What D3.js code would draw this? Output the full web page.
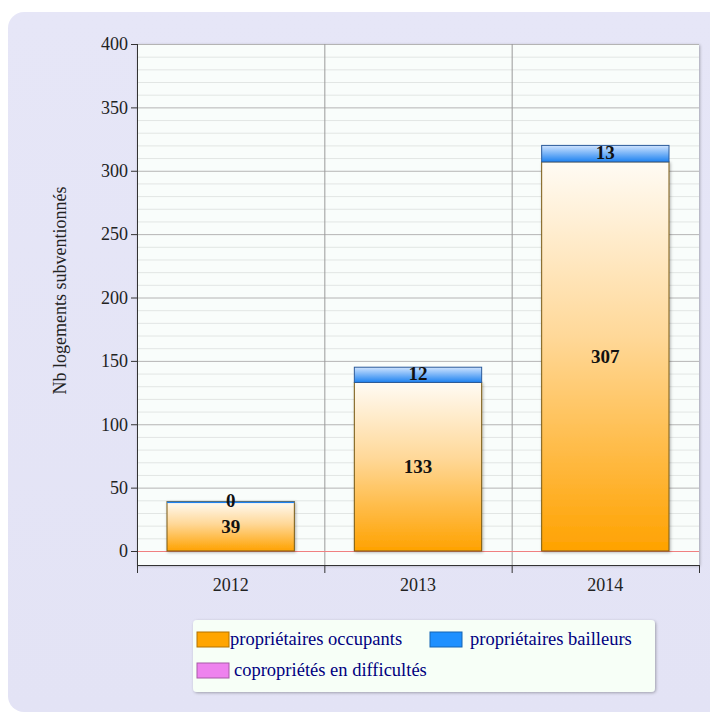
<!DOCTYPE html>
<html>
<head>
<meta charset="utf-8">
<script src="https://cdn.jsdelivr.net/npm/d3@7"></script>
<style>
  html, body { margin: 0; padding: 0; background: #ffffff; }
  svg { display: block; }
  .tick-label { font-family: "Liberation Serif", "DejaVu Serif", serif; font-size: 18px; fill: #222; }
  .bar-label { font-family: "Liberation Serif", serif; font-size: 19px; font-weight: bold; fill: #111; }
  .legend-text { font-family: "Liberation Serif", serif; font-size: 18.5px; fill: #000080; }
</style>
</head>
<body>
<div id="visualization"></div>
<script>
'use strict';

// chart data
const years = ['2012', '2013', '2014'];
const occupants = [39, 133, 307];
const bailleurs = [0, 12, 13];
const copro = [0, 0, 0];
const yTicks = [0, 50, 100, 150, 200, 250, 300, 350, 400];
const legendLabels = ['propriétaires occupants', 'propriétaires bailleurs', 'copropriétés en difficultés'];
const legendColors = ['#ffa500', '#1e90ff', '#ee82ee'];
const yTitle = 'Nb logements subventionnés';

const W = 710, H = 713;
const plot = { left: 137, right: 699, top: 44, bottom: 565 };

const svg = d3.select('#visualization')
    .append('svg')
    .attr('width', W)
    .attr('height', H);

const defs = svg.append('defs');

const panelGrad = defs.append('linearGradient').attr('id', 'panel').attr('x1', 0).attr('y1', 0).attr('x2', 0).attr('y2', 1);
panelGrad.append('stop').attr('offset', '0%').attr('stop-color', '#e6e6f7');
panelGrad.append('stop').attr('offset', '100%').attr('stop-color', '#e3e3f5');

const orangeGrad = defs.append('linearGradient').attr('id', 'orange').attr('x1', 0).attr('y1', 0).attr('x2', 0).attr('y2', 1);
orangeGrad.append('stop').attr('offset', '0%').attr('stop-color', '#fffbf4');
orangeGrad.append('stop').attr('offset', '45%').attr('stop-color', '#ffd898');
orangeGrad.append('stop').attr('offset', '100%').attr('stop-color', '#ffa200');

const blueGrad = defs.append('linearGradient').attr('id', 'blue').attr('x1', 0).attr('y1', 0).attr('x2', 0).attr('y2', 1);
blueGrad.append('stop').attr('offset', '0%').attr('stop-color', '#cfe4ff');
blueGrad.append('stop').attr('offset', '100%').attr('stop-color', '#1e82f0');

const shadow = defs.append('filter').attr('id', 'shadow').attr('x', '-10%').attr('y', '-10%').attr('width', '130%').attr('height', '130%');
shadow.append('feDropShadow').attr('dx', 1).attr('dy', 1).attr('stdDeviation', 1.5).attr('flood-color', '#000').attr('flood-opacity', 0.3);

// background panel
svg.append('rect')
    .attr('x', 8).attr('y', 12)
    .attr('width', 720).attr('height', 700)
    .attr('rx', 16)
    .attr('fill', 'url(#panel)');

// plot area
svg.append('rect')
    .attr('x', plot.left).attr('y', plot.top)
    .attr('width', plot.right - plot.left).attr('height', plot.bottom - plot.top)
    .attr('fill', '#f9fdfb')
    .attr('filter', 'url(#shadow)');

const x = d3.scaleBand().domain(years).range([plot.left, plot.right]).paddingInner(0).paddingOuter(0);
const y = d3.scaleLinear().domain([0, 400]).range([551, plot.top]);

// minor gridlines
svg.append('g')
    .selectAll('line')
    .data(d3.range(0, 401, 10).filter(v => v % 50 !== 0))
    .enter()
        .append('line')
        .attr('x1', plot.left).attr('x2', plot.right)
        .attr('y1', d => y(d) + 0.5).attr('y2', d => y(d) + 0.5)
        .attr('stroke', '#e2e6e4')
        .attr('stroke-width', 1);

// major gridlines
svg.append('g')
    .selectAll('line')
    .data(yTicks.filter(v => v > 0))
    .enter()
        .append('line')
        .attr('x1', plot.left).attr('x2', plot.right)
        .attr('y1', d => y(d) + 0.5).attr('y2', d => y(d) + 0.5)
        .attr('stroke', '#b4b4b4')
        .attr('stroke-width', 1);

// vertical category separators
svg.append('g')
    .selectAll('line')
    .data(years.slice(1))
    .enter()
        .append('line')
        .attr('x1', d => x(d) + 0.5).attr('x2', d => x(d) + 0.5)
        .attr('y1', plot.top).attr('y2', plot.bottom)
        .attr('stroke', '#9a9a9a');

// zero line
svg.append('line')
    .attr('x1', plot.left).attr('x2', plot.right)
    .attr('y1', y(0) + 0.5).attr('y2', y(0) + 0.5)
    .attr('stroke', '#f08080');

// bars
const barPad = 30;
const barW = x.bandwidth() - 2 * barPad;
const bars = svg.append('g');

bars.selectAll('.occ')
    .data(years)
    .enter()
        .append('rect')
        .classed('occ', true)
        .attr('x', d => x(d) + barPad)
        .attr('y', (d, i) => y(occupants[i]))
        .attr('width', barW)
        .attr('height', (d, i) => y(0) - y(occupants[i]))
        .attr('fill', 'url(#orange)')
        .attr('stroke', '#7a5a14')
        .attr('stroke-width', 1)
        .attr('filter', 'url(#shadow)');

bars.selectAll('.bai')
    .data(years)
    .enter()
        .append('rect')
        .classed('bai', true)
        .attr('x', d => x(d) + barPad)
        .attr('y', (d, i) => y(occupants[i] + bailleurs[i]))
        .attr('width', barW)
        .attr('height', (d, i) => Math.max(1.5, y(occupants[i]) - y(occupants[i] + bailleurs[i])))
        .attr('fill', (d, i) => bailleurs[i] > 0 ? 'url(#blue)' : '#1e82f0')
        .attr('stroke', (d, i) => bailleurs[i] > 0 ? '#2a5a9a' : 'none')
        .attr('stroke-width', 1);

// bar labels
bars.selectAll('.occ-label')
    .data(years)
    .enter()
        .append('text')
        .classed('bar-label', true)
        .attr('x', d => x(d) + x.bandwidth() / 2)
        .attr('y', (d, i) => (y(0) + y(occupants[i])) / 2)
        .attr('text-anchor', 'middle')
        .attr('dy', '0.35em')
        .text((d, i) => occupants[i]);

bars.selectAll('.bai-label')
    .data(years)
    .enter()
        .append('text')
        .classed('bar-label', true)
        .attr('x', d => x(d) + x.bandwidth() / 2)
        .attr('y', (d, i) => (y(occupants[i]) + y(occupants[i] + bailleurs[i])) / 2 - 1)
        .attr('text-anchor', 'middle')
        .attr('dy', '0.35em')
        .text((d, i) => bailleurs[i]);

// y axis
const yAxis = svg.append('g')
    .attr('transform', 'translate(' + plot.left + ',0)')
    .call(d3.axisLeft(y).tickValues(yTicks).tickSize(6).tickSizeOuter(0));
yAxis.select('.domain').remove();
yAxis.selectAll('.tick line').attr('stroke', '#333');
yAxis.selectAll('.tick text').attr('class', 'tick-label').attr('x', -9);
svg.append('line')
    .attr('x1', plot.left + 0.5).attr('x2', plot.left + 0.5)
    .attr('y1', plot.top).attr('y2', plot.bottom + 8)
    .attr('stroke', '#333');

// x axis
const xAxis = svg.append('g')
    .attr('transform', 'translate(0,' + plot.bottom + ')')
    .call(d3.axisBottom(x).tickSize(0).tickSizeOuter(0));
xAxis.select('.domain').attr('stroke', '#333');
xAxis.selectAll('.tick text').attr('class', 'tick-label').attr('dy', '1.3em');
svg.append('g')
    .selectAll('line')
    .data(years.concat(['end']))
    .enter()
        .append('line')
        .attr('x1', d => (d === 'end' ? plot.right : x(d)) + 0.5)
        .attr('x2', d => (d === 'end' ? plot.right : x(d)) + 0.5)
        .attr('y1', plot.bottom).attr('y2', plot.bottom + 8)
        .attr('stroke', '#333');

// y title
svg.append('text')
    .attr('class', 'tick-label')
    .attr('transform', 'translate(66,' + ((plot.top + plot.bottom) / 2 - 14) + ') rotate(-90)')
    .attr('text-anchor', 'middle')
    .text(yTitle);

// legend
const lg = svg.append('g').attr('transform', 'translate(193,620)');
lg.append('rect')
    .attr('width', 462).attr('height', 72)
    .attr('rx', 4)
    .attr('fill', '#f7fff7')
    .attr('filter', 'url(#shadow)');

const legendPos = [[4, 12, 37], [237, 12, 277], [4, 43, 41]];
const items = lg.selectAll('.item')
    .data(legendLabels)
    .enter()
        .append('g')
        .classed('item', true);

items.append('rect')
    .attr('x', (d, i) => legendPos[i][0])
    .attr('y', (d, i) => legendPos[i][1])
    .attr('width', 32).attr('height', 15)
    .attr('fill', (d, i) => legendColors[i])
    .attr('stroke', (d, i) => d3.color(legendColors[i]).darker(1))
    .attr('stroke-width', 1);

items.append('text')
    .classed('legend-text', true)
    .attr('x', (d, i) => legendPos[i][2])
    .attr('y', (d, i) => legendPos[i][1] + 13)
    .text(d => d);
</script>
</body>
</html>
